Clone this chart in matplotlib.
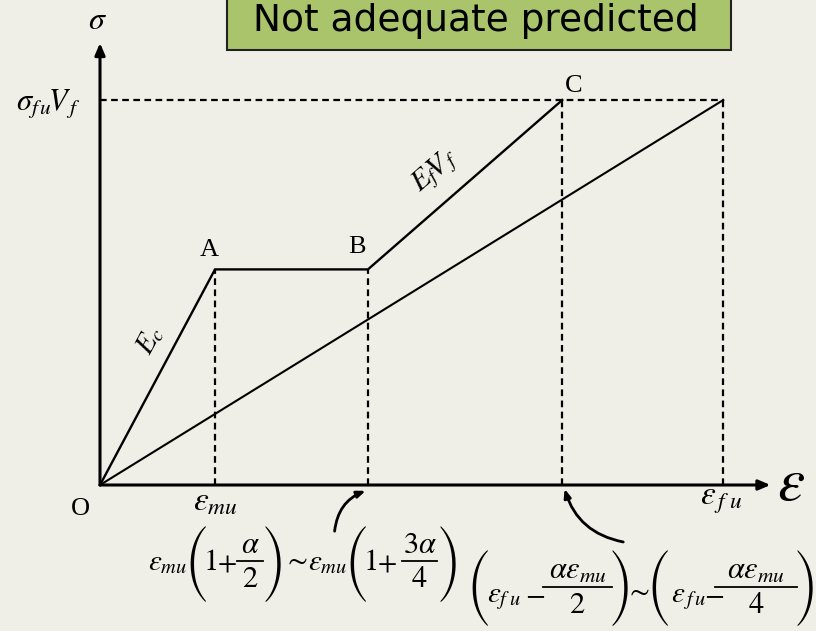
import os
import matplotlib as mpl
import matplotlib.pyplot as plt
from matplotlib.patches import Rectangle
from matplotlib.lines import Line2D
from matplotlib.font_manager import FontProperties

plt.rcParams['mathtext.fontset'] = 'stix'
plt.rcParams['font.family'] = 'Liberation Serif'

# strain / stress of the composite curve O-A-B-C (normalised units)
strain_curve = [0.0, 1.0, 2.33, 4.02]
stress_curve = [0.0, 0.56, 0.56, 1.0]
# linear prediction O -> failure
strain_lin = [0.0, 5.42]
stress_lin = [0.0, 1.0]
point_names = ['O', 'A', 'B', 'C']

W, H = 816, 631
bg = '#EFEFE7'
fig = plt.figure(figsize=(W / 100, H / 100), dpi=100, facecolor=bg)
ax = fig.add_axes([0, 0, 1, 1])
ax.set_facecolor(bg)
ax.set_xlim(-100 / 115, 716 / 115)
ax.set_ylim(-146 / 385, 485 / 385)
ax.axis('off')

# axes with arrows
head = '-|>,head_length=0.7,head_width=0.3'
ax.annotate('', xy=(5.83, 0), xytext=(0, 0),
            arrowprops=dict(arrowstyle=head, lw=2.2, color='black', shrinkA=0, shrinkB=0))
ax.annotate('', xy=(0, 1.148), xytext=(0, 0),
            arrowprops=dict(arrowstyle=head, lw=2.2, color='black', shrinkA=0, shrinkB=0))

dash = dict(color='black', lw=1.6, linestyle=(0, (3, 2)))
top = stress_curve[-1]
ax.plot([0, strain_lin[-1]], [top, top], **dash)
for e in [strain_curve[1], strain_curve[2], strain_curve[3], strain_lin[-1]]:
    s = stress_curve[1] if e < strain_curve[3] else top
    ax.plot([e, e], [0, s], **dash)

ax.plot(strain_curve, stress_curve, color='black', lw=1.7, solid_joinstyle='miter')
ax.plot(strain_lin, stress_lin, color='black', lw=1.5)

# point letters
offs = {'O': (-14, -17), 'A': (-4, 14), 'B': (-8, 16), 'C': (8, 10)}
for n, e, s in zip(point_names, strain_curve, stress_curve):
    ax.annotate(n, (e, s), xytext=offs[n], textcoords='offset points',
                ha='center', va='center', fontsize=19)

# slope labels
ax.text(0.435, 0.375, r'$E_c$', rotation=62, ha='center', va='center', fontsize=21)
ax.text(2.92, 0.815, r'$E_f\!V_{\,f}$', rotation=41, ha='center', va='center', fontsize=21)

# axis labels
ax.text(-0.02, 1.205, r'$\sigma$', ha='center', va='center', fontsize=23)
ax.text(-0.45, top - 0.01, r'$\sigma_{f\,u}\!V_{\,f}$', ha='center', va='center', fontsize=22)
ax.text(6.01, 0.0, r'$\varepsilon$', ha='center', va='center', fontsize=44)
ax.text(strain_curve[1], -0.045, r'$\varepsilon_{mu}$', ha='center', va='center', fontsize=24)
ax.text(strain_lin[-1] - 0.02, -0.04, r'$\varepsilon_{\,f\ u}$', ha='center', va='center', fontsize=24)

ax.annotate('', xy=(strain_curve[2] - 0.02, -0.015), xytext=(2.04, -0.12),
            arrowprops=dict(arrowstyle='-|>,head_length=0.5,head_width=0.2', lw=2, color='black',
                            connectionstyle='arc3,rad=-0.3', shrinkA=0, shrinkB=0))
ax.annotate('', xy=(strain_curve[3] + 0.02, -0.01), xytext=(4.55, -0.148),
            arrowprops=dict(arrowstyle='-|>,head_length=0.5,head_width=0.2', lw=2, color='black',
                            connectionstyle='arc3,rad=-0.3', shrinkA=0, shrinkB=0))


# --- strain estimates for B and C, typeset piece by piece (pixel positions) ---
paren_path = os.path.join(mpl.get_data_path(), 'fonts', 'ttf', 'STIXSizThreeSymReg.ttf')
FS = 21


def fx(x):
    return x / W


def fy(y):
    return 1 - y / H


def put(x, y, s, ha='left', va='baseline', size=FS):
    fig.text(fx(x), fy(y), s, ha=ha, va=va, fontsize=size)


def paren(x, y, ch, size=22.3):
    fig.text(fx(x), fy(y), ch, ha='center', va='center',
             fontproperties=FontProperties(fname=paren_path, size=size))


def frac(xc, ybar, half, num, den):
    fig.add_artist(Line2D([fx(xc - half), fx(xc + half)], [fy(ybar), fy(ybar)],
                          transform=fig.transFigure, color='black', lw=1.3))
    put(xc, ybar - 8, num, ha='center', size=22)
    put(xc, ybar + 4, den, ha='center', va='top', size=22)


# eps_mu (1 + a/2) ~ eps_mu (1 + 3a/4)
put(148, 570, r'$\varepsilon_{mu}$')
paren(196, 564, '(')
put(210, 570, r'$1$', ha='center', size=22)
put(227, 570, r'$+$', ha='center', size=20)
frac(250, 561, 13, r'$\alpha$', r'$2$')
paren(274, 564, ')')
put(295, 561, r'$\sim$', ha='center', va='center')
put(308, 570, r'$\varepsilon_{mu}$')
paren(356, 564, '(')
put(370, 570, r'$1$', ha='center', size=22)
put(387, 570, r'$+$', ha='center', size=20)
frac(419.5, 561, 17.5, r'$3\alpha$', r'$4$')
paren(449, 564, ')')

# (eps_fu - a eps_mu/2) ~ (eps_fu - a eps_mu/4)
paren(478, 588, '(')
put(487, 602, r'$\varepsilon_{f\;u}$')
put(535, 595, r'$-$', ha='center', va='center')
frac(577.5, 587, 34.5, r'$\alpha\varepsilon_{mu}$', r'$2$')
paren(621, 588, ')')
put(637, 592, r'$\sim$', ha='center', va='center')
paren(658, 588, '(')
put(671, 602, r'$\varepsilon_{\,f\,u}$')
put(714, 595, r'$-$', ha='center', va='center')
frac(756, 587, 41, r'$\alpha\varepsilon_{mu}$', r'$4$')
paren(806, 588, ')')

# banner
fig.patches.append(Rectangle((fx(227), fy(50)), 504 / W, 0.2,
                             transform=fig.transFigure, facecolor='#AAC46C',
                             edgecolor='#222222', lw=1.5))
fig.text(fx(476), fy(31), 'Not adequate predicted', ha='center', va='baseline',
         fontsize=27, family='DejaVu Sans')

fig.savefig('out.png', dpi=100, facecolor=bg)
